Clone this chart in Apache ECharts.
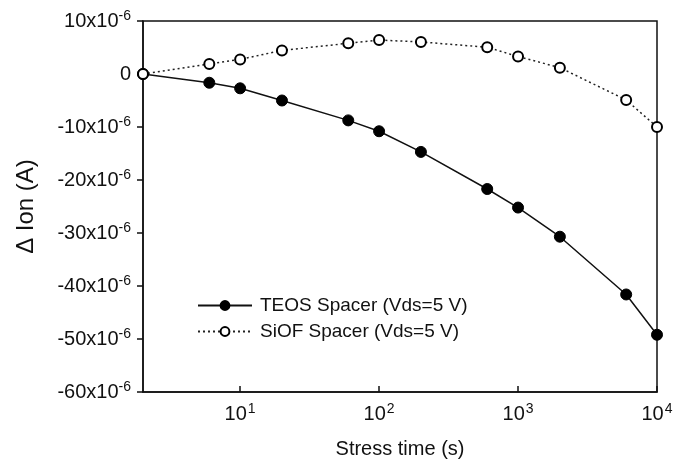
<!DOCTYPE html>
<html>
<head>
<meta charset="utf-8">
<script src="https://cdn.jsdelivr.net/npm/echarts@6/dist/echarts.min.js"></script>
<style>
  html, body { margin: 0; padding: 0; background: #fff; }
  #chart { width: 689px; height: 464px; }
</style>
</head>
<body>
<div id="chart"></div>
<script>
// stress time (s)
const stressTime = [2, 6, 10, 20, 60, 100, 200, 600, 1000, 2000, 6000, 10000];
// delta Ion, in units of 1e-6 A
const teosIon = [0, -1.65, -2.7, -5.0, -8.75, -10.8, -14.7, -21.7, -25.2, -30.7, -41.6, -49.2];
const siofIon = [0, 1.9, 2.75, 4.45, 5.8, 6.4, 6.05, 5.05, 3.3, 1.2, -4.9, -10.0];
const seriesNames = ['TEOS Spacer (Vds=5 V)', 'SiOF Spacer (Vds=5 V)'];

const font = 'Liberation Sans, Arial, Helvetica, sans-serif';
const chart = echarts.init(document.getElementById('chart'));

const toPairs = (ys) => stressTime.map((t, i) => [t, ys[i]]);

const option = {
  animation: false,
  backgroundColor: '#fff',
  grid: {
    left: 143,
    right: 32,
    top: 21,
    bottom: 72,
    show: true,
    borderColor: '#111',
    borderWidth: 1.5,
  },
  legend: {
    orient: 'vertical',
    left: 192,
    top: 291,
    itemWidth: 54,
    itemHeight: 11,
    itemGap: 7,
    textStyle: { fontFamily: font, fontSize: 19, color: '#111', padding: [0, 0, 0, 3] },
    data: seriesNames,
  },
  xAxis: {
    type: 'log',
    logBase: 10,
    min: 2,
    max: 10000,
    name: 'Stress time (s)',
    nameLocation: 'middle',
    nameGap: 47,
    nameTextStyle: { fontFamily: font, fontSize: 20, color: '#111' },
    axisLine: { onZero: false, lineStyle: { color: '#111', width: 1.5 } },
    axisTick: { inside: true, length: 6, lineStyle: { color: '#111', width: 1.5 } },
    splitLine: { show: false },
    minorTick: { show: false },
    axisLabel: {
      showMinLabel: false,
      margin: 10,
      formatter: (v) => {
        const p = Math.round(Math.log10(v));
        if (Math.abs(Math.log10(v) - p) > 1e-6) return '';
        return `{b|10}{s|${p}}`;
      },
      rich: {
        b: { fontFamily: font, fontSize: 20, color: '#111' },
        s: { fontFamily: font, fontSize: 14, color: '#111', padding: [0, 0, 10, 1] },
      },
    },
  },
  yAxis: {
    type: 'value',
    min: -60,
    max: 10,
    interval: 10,
    name: 'Δ Ion (A)',
    nameLocation: 'middle',
    nameGap: 105,
    nameTextStyle: { fontFamily: font, fontSize: 24, color: '#111' },
    axisLine: { show: true, lineStyle: { color: '#111', width: 1.5 } },
    axisTick: { show: true, length: 6, lineStyle: { color: '#111', width: 1.5 } },
    splitLine: { show: false },
    axisLabel: {
      margin: 12,
      formatter: (v) => (v === 0 ? '{b|0}' : `{b|${v}x10}{s|-6}`),
      rich: {
        b: { fontFamily: font, fontSize: 20, color: '#111' },
        s: { fontFamily: font, fontSize: 14, color: '#111', padding: [0, 0, 10, 0] },
      },
    },
  },
  series: [
    {
      name: seriesNames[0],
      type: 'line',
      data: toPairs(teosIon),
      symbol: 'circle',
      symbolSize: 11,
      itemStyle: { color: '#000', borderColor: '#000', borderWidth: 1 },
      lineStyle: { color: '#111', width: 1.5 },
      z: 2,
    },
    {
      name: seriesNames[1],
      type: 'line',
      data: toPairs(siofIon),
      symbol: 'circle',
      symbolSize: 10,
      itemStyle: { color: '#fff', borderColor: '#000', borderWidth: 2 },
      lineStyle: { color: '#222', width: 1.5, type: [2, 3] },
      z: 3,
    },
  ],
};

chart.setOption(option);
</script>
</body>
</html>
